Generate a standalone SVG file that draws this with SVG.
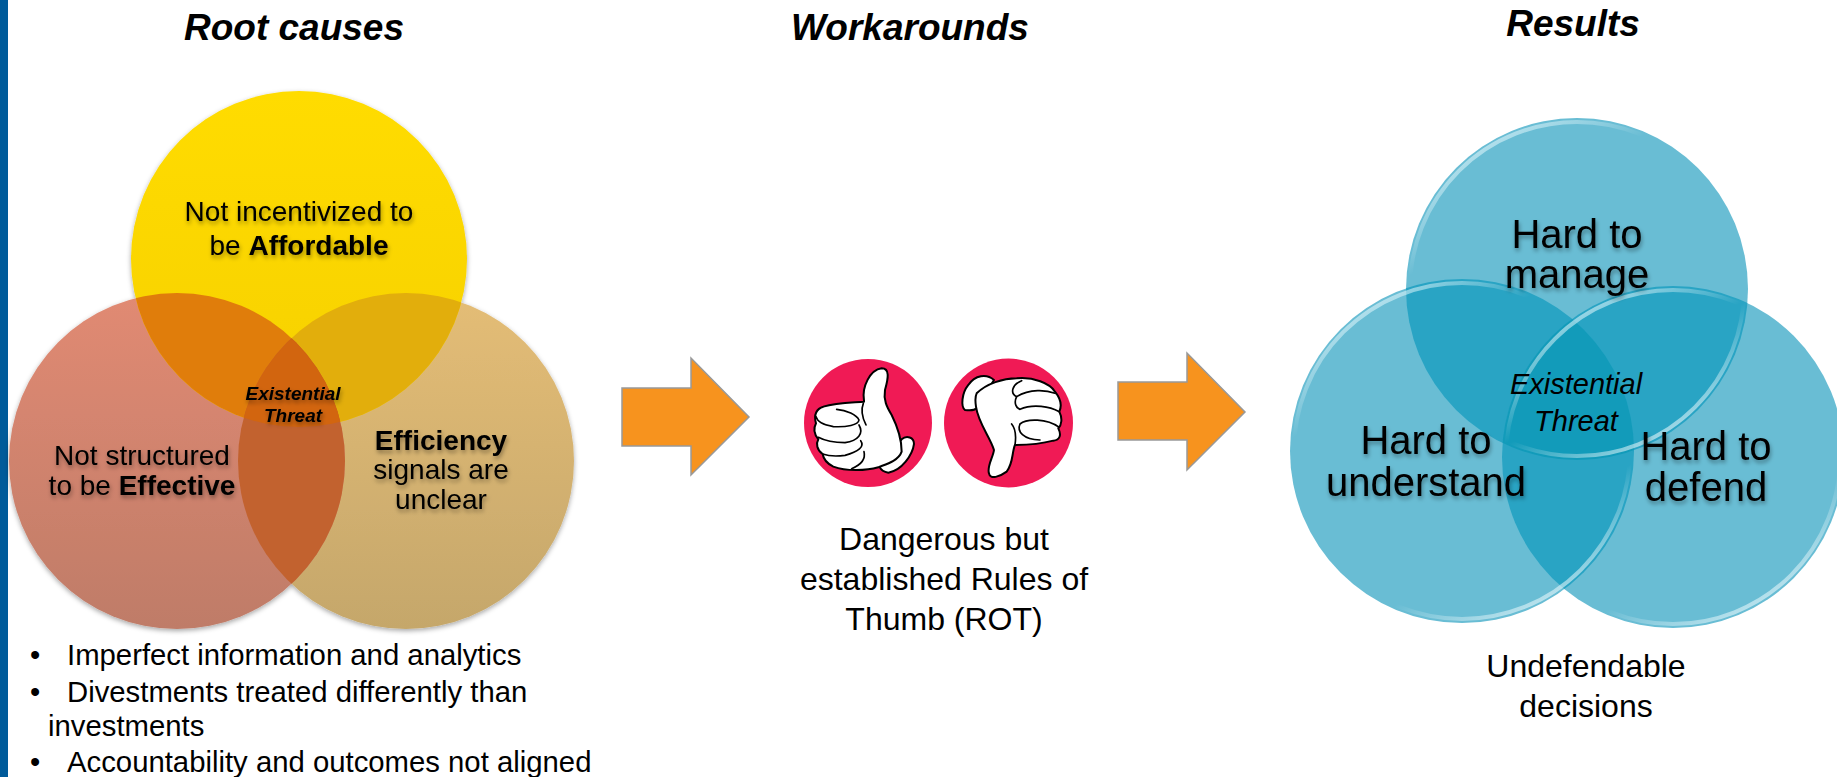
<svg xmlns="http://www.w3.org/2000/svg" width="1837" height="777" viewBox="0 0 1837 777">
<style>
text{font-family:"Liberation Sans",Arial,sans-serif;fill:#000;text-anchor:middle}
.title{font-size:37px;font-weight:bold;font-style:italic}
.venn{font-size:28px;filter:url(#ts)}
.big{font-size:40px;filter:url(#ts)}
.ex{font-size:19px;font-weight:bold;font-style:italic;filter:url(#ts)}
.ex2{font-size:29px;font-style:italic}
.bul{font-size:29.3px;text-anchor:start}
.und{font-size:32px}
.arrow{fill:#f7931e;stroke:#999;stroke-width:1.5}
.hand{fill:#fff;stroke:#000;stroke-width:6;stroke-linejoin:round;stroke-linecap:round}
.line{fill:none;stroke:#000;stroke-width:5;stroke-linecap:round}
.rim{fill:none;stroke:url(#rim);stroke-width:4}
</style>
<defs>
<filter id="ts" x="-10%" y="-20%" width="120%" height="150%"><feDropShadow dx="1" dy="3" stdDeviation="2" flood-color="#000" flood-opacity=".35"/></filter>
<filter id="cs" x="-10%" y="-10%" width="120%" height="120%"><feDropShadow dx="0" dy="2" stdDeviation="2.5" flood-color="#000" flood-opacity=".35"/></filter>
<linearGradient id="gy" x1="0" y1="0" x2="0" y2="1"><stop offset="0" stop-color="#ffdc00"/><stop offset="1" stop-color="#f6d000"/></linearGradient>
<linearGradient id="gr" x1="0" y1="0" x2="0" y2="1"><stop offset="0" stop-color="#e18a73"/><stop offset="1" stop-color="#bf7c68"/></linearGradient>
<linearGradient id="gt" x1="0" y1="0" x2="0" y2="1"><stop offset="0" stop-color="#e4bd76"/><stop offset="1" stop-color="#c5a76b"/></linearGradient>
<linearGradient id="rim" x1=".2" y1="0" x2=".8" y2="1"><stop offset="0" stop-color="#d5f3fa" stop-opacity=".8"/><stop offset=".25" stop-color="#fff" stop-opacity="0"/><stop offset=".75" stop-color="#fff" stop-opacity="0"/><stop offset="1" stop-color="#e6f8fc" stop-opacity=".8"/></linearGradient>
<clipPath id="cy"><circle cx="299" cy="259" r="168"/></clipPath>
<clipPath id="cr"><circle cx="177" cy="461" r="168"/></clipPath>
<clipPath id="b1"><circle cx="1577" cy="289" r="171"/></clipPath>
<clipPath id="b2"><circle cx="1462" cy="451" r="172"/></clipPath>
</defs>
<rect id="edge-bar" x="0" y="0" width="8" height="777" fill="#005b9a"/>
<g id="title-root"><text class="title" x="294" y="40">Root causes</text></g>
<g id="title-workarounds"><text class="title" x="910" y="40">Workarounds</text></g>
<g id="title-results"><text class="title" x="1573" y="36">Results</text></g>

<g id="venn-causes">
<g filter="url(#cs)">
<circle cx="406" cy="461" r="168" fill="url(#gt)"/>
<circle cx="177" cy="461" r="168" fill="url(#gr)"/>
<circle cx="299" cy="259" r="168" fill="url(#gy)"/>
</g>
<g clip-path="url(#cy)"><circle cx="406" cy="461" r="168" fill="#e2ae0c"/><circle cx="177" cy="461" r="168" fill="#e07d0b"/></g>
<g clip-path="url(#cr)"><circle cx="406" cy="461" r="168" fill="#c2622f"/></g>
<g clip-path="url(#cy)"><g clip-path="url(#cr)"><circle cx="406" cy="461" r="168" fill="#d2650f"/></g></g>
</g>
<g id="cause-affordable"><text class="venn" x="299" y="221">Not incentivized to</text><text class="venn" x="299" y="255">be <tspan font-weight="bold">Affordable</tspan></text></g>
<g id="cause-effective"><text class="venn" x="142" y="465">Not structured</text><text class="venn" x="142" y="495">to be <tspan font-weight="bold">Effective</tspan></text></g>
<g id="cause-efficiency"><text class="venn" x="441" y="450"><tspan font-weight="bold">Efficiency</tspan></text><text class="venn" x="441" y="479">signals are</text><text class="venn" x="441" y="509">unclear</text></g>
<g id="cause-threat"><text class="ex" x="293" y="400">Existential</text><text class="ex" x="293" y="422">Threat</text></g>

<g id="causes-list">
<text class="bul" x="30" y="665">•</text><text class="bul" x="67" y="665">Imperfect information and analytics</text>
<text class="bul" x="30" y="702">•</text><text class="bul" x="67" y="702">Divestments treated differently than</text>
<text class="bul" x="48" y="736">investments</text>
<text class="bul" x="30" y="772">•</text><text class="bul" x="67" y="772">Accountability and outcomes not aligned</text>
</g>

<g id="connectors">
<path class="arrow" d="M622,388H691V358L749,417L691,475V446H622Z"/>
<path class="arrow" d="M1118,382H1187V353L1245,412L1187,470V440H1118Z"/>
</g>

<g id="thumb-up">
<circle cx="868" cy="423" r="64" fill="#f01a55"/>
<g transform="translate(790,350) scale(.3333)">
<path class="hand" d="M335,268C350,255 372,262 372,282C368,315 335,362 295,368C280,366 272,358 268,350Z"/>
<path class="hand" d="M222,152C215,110 240,60 275,55C300,55 295,85 285,120C280,150 290,170 305,195C325,235 335,270 335,305C325,335 280,345 265,352C230,362 170,365 130,350C110,340 100,325 98,312C80,300 78,280 85,268C70,250 70,235 78,220C70,195 80,175 100,170C140,158 190,158 222,155Z"/>
<path class="line" d="M140,178C170,180 200,195 207,210C205,225 170,232 130,230C100,225 82,215 78,200"/>
<path class="line" d="M207,225C222,250 205,272 165,278C130,278 100,270 85,262"/>
<path class="line" d="M212,272C225,290 205,305 165,316C135,320 115,318 98,312"/>
<path class="line" d="M222,305C228,330 212,345 185,356"/>
<path class="line" d="M220,160C212,180 218,205 228,225"/>
</g>
</g>
<g id="thumb-down">
<circle cx="1008.5" cy="423" r="64.5" fill="#f01a55"/>
<g transform="translate(790,350) scale(.3333)">
<path class="hand" d="M612,90C590,70 555,75 535,105C515,130 512,170 525,180C540,182 555,180 560,175Z"/>
<path class="hand" d="M560,130C590,100 640,85 680,85C730,80 780,100 795,125C815,150 815,170 808,185C818,205 815,225 805,235C815,255 810,270 790,272C760,280 710,285 675,285C665,310 670,340 650,365C630,380 600,390 597,370C590,350 610,320 612,300C600,260 565,220 558,170C555,150 555,140 560,130Z"/>
<path class="line" d="M695,92C665,105 660,130 680,140C720,115 770,120 795,130"/>
<path class="line" d="M680,140C670,160 680,175 690,178C730,160 780,170 808,185"/>
<path class="line" d="M808,232C770,205 710,205 690,222C680,245 700,268 750,270"/>
<path class="line" d="M665,222C680,240 678,265 675,285"/>
</g>
</g>
<g id="rot-label"><text class="und" x="944" y="550">Dangerous but</text><text class="und" x="944" y="590">established Rules of</text><text class="und" x="944" y="630">Thumb (ROT)</text></g>

<g id="venn-results">
<circle cx="1577" cy="289" r="171" fill="#69bdd4"/>
<circle cx="1462" cy="451" r="172" fill="#69bdd4"/>
<circle cx="1673" cy="457" r="171" fill="#69bdd4"/>
<g clip-path="url(#b1)"><circle cx="1462" cy="451" r="172" fill="#29a4c4"/><circle cx="1673" cy="457" r="171" fill="#29a4c4"/></g>
<g clip-path="url(#b2)"><circle cx="1673" cy="457" r="171" fill="#29a4c4"/></g>
<g clip-path="url(#b1)"><g clip-path="url(#b2)"><circle cx="1673" cy="457" r="171" fill="#129bba"/></g></g>
<circle class="rim" cx="1577" cy="289" r="167"/>
<circle class="rim" cx="1462" cy="451" r="168"/>
<circle class="rim" cx="1673" cy="457" r="167"/>
</g>
<g id="result-manage"><text class="big" x="1577" y="248">Hard to</text><text class="big" x="1577" y="288">manage</text></g>
<g id="result-understand"><text class="big" x="1426" y="454">Hard to</text><text class="big" x="1426" y="496">understand</text></g>
<g id="result-defend"><text class="big" x="1706" y="460">Hard to</text><text class="big" x="1706" y="501">defend</text></g>
<g id="result-threat"><text class="ex2" x="1576" y="394">Existential</text><text class="ex2" x="1576" y="431">Threat</text></g>
<g id="results-label"><text class="und" x="1586" y="677">Undefendable</text><text class="und" x="1586" y="717">decisions</text></g>
</svg>
